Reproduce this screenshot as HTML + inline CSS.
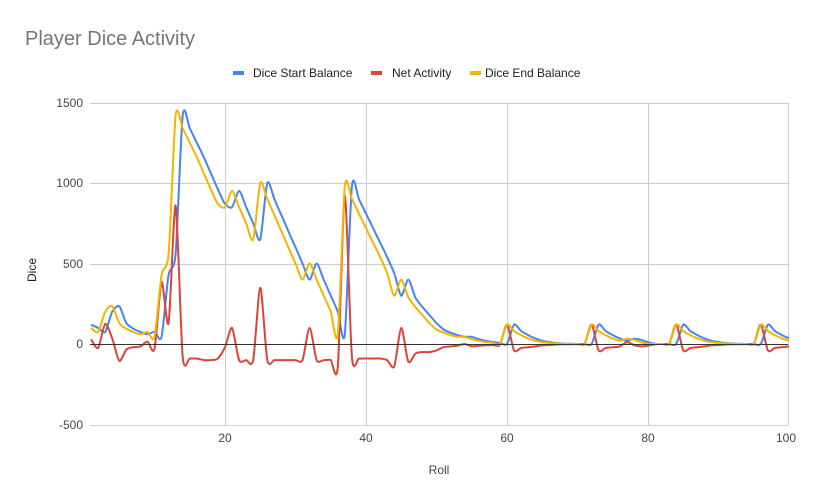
<!DOCTYPE html>
<html><head><meta charset="utf-8"><style>
html,body{margin:0;padding:0;background:#fff;width:813px;height:502px;overflow:hidden}
svg{display:block;font-family:"Liberation Sans",Arial,sans-serif}
</style></head><body>
<svg id="s" width="813" height="502" viewBox="0 0 813 502">
<rect width="813" height="502" fill="#fff"/>
<text x="25" y="45" font-size="20" fill="#757575">Player Dice Activity</text>
<rect x="233" y="71" width="11" height="4" fill="#4285f4"/>
<text x="253" y="77" font-size="12" fill="#222">Dice Start Balance</text>
<rect x="371" y="71" width="11" height="4" fill="#db4437"/>
<text x="392" y="77" font-size="12" fill="#222">Net Activity</text>
<rect x="470" y="71" width="11" height="4" fill="#f4b400"/>
<text x="485" y="77" font-size="12" fill="#222">Dice End Balance</text>
<g stroke="#cccccc" stroke-width="1">
<line x1="90" y1="103.5" x2="788" y2="103.5"/>
<line x1="90" y1="183.5" x2="788" y2="183.5"/>
<line x1="90" y1="264.5" x2="788" y2="264.5"/>
<line x1="90" y1="425.5" x2="788" y2="425.5"/>
<line x1="225.5" y1="103" x2="225.5" y2="425"/>
<line x1="366.5" y1="103" x2="366.5" y2="425"/>
<line x1="507.5" y1="103" x2="507.5" y2="425"/>
<line x1="648.5" y1="103" x2="648.5" y2="425"/>
<line x1="788.5" y1="103" x2="788.5" y2="425"/>
</g>
<g font-size="12" fill="#444" text-anchor="end">
<text x="83" y="107">1500</text>
<text x="83" y="187">1000</text>
<text x="83" y="268">500</text>
<text x="83" y="348">0</text>
<text x="83" y="429">-500</text>
</g>
<g font-size="12" fill="#444" text-anchor="middle">
<text x="225" y="442">20</text>
<text x="366" y="442">40</text>
<text x="507" y="442">60</text>
<text x="648" y="442">80</text>
<text x="786" y="442">100</text>
<text x="439" y="474">Roll</text>
</g>
<text x="0" y="0" font-size="12" fill="#222" text-anchor="middle" transform="translate(36,270) rotate(-90)">Dice</text>
<g id="series" fill="none" stroke-width="2"></g>
<line x1="90" y1="344.5" x2="788" y2="344.5" stroke="#333" stroke-width="1"/>
</svg>
<script>
var E={1:100,2:75,3:200,4:235,5:130,6:95,7:75,8:60,9:75,10:45,11:430,12:560,13:1420,14:1340,15:1250,16:1160,17:1060,18:960,19:870,20:850,21:950,22:850,23:750,24:650,25:1000,26:900,27:800,28:700,29:600,30:500,31:400,32:500,33:400,34:300,35:200,36:60,37:980,38:900,39:810,40:720,41:630,42:540,43:440,44:300,45:400,46:290,47:230,48:180,49:130,50:90,51:70,52:55,53:45,54:45,55:30,56:20,57:12,58:6,59:0};
var pk=[120,80,55,35,20,12,6,3,1,0,0,0];
for(var b=60;b<=96;b+=12){for(var k=0;k<12&&b+k<=100;k++){E[b+k]=pk[k];}}
E[77]+=20;E[78]+=20;E[79]+=8;
var S={1:120},N={};
for(var r=2;r<=100;r++)S[r]=E[r-1];
for(var r=1;r<=100;r++)N[r]=E[r]-S[r];
N[1]=30;
function X(r){return 84+7.05*r}
function Y(v){return 344-v*0.161}
function path(d){
 var p=[];for(var r=1;r<=100;r++)p.push([X(r),Y(d[r])]);
 var s="M"+p[0][0]+","+p[0][1];
 for(var i=0;i<p.length-1;i++){
  var p0=p[i-1]||p[i],p1=p[i],p2=p[i+1],p3=p[i+2]||p2,f=8;
  var c1=[p1[0]+(p2[0]-p0[0])/f,p1[1]+(p2[1]-p0[1])/f];
  var c2=[p2[0]-(p3[0]-p1[0])/f,p2[1]-(p3[1]-p1[1])/f];
  s+="C"+c1[0].toFixed(1)+","+c1[1].toFixed(1)+" "+c2[0].toFixed(1)+","+c2[1].toFixed(1)+" "+p2[0].toFixed(1)+","+p2[1].toFixed(1);
 }
 return s;
}
var g=document.getElementById("series"),ns="http://www.w3.org/2000/svg";
[[S,"#4285f4"],[N,"#db4437"],[E,"#f4b400"]].forEach(function(a){
 var e=document.createElementNS(ns,"path");e.setAttribute("d",path(a[0]));e.setAttribute("stroke",a[1]);g.appendChild(e);
});
</script>
</body></html>
